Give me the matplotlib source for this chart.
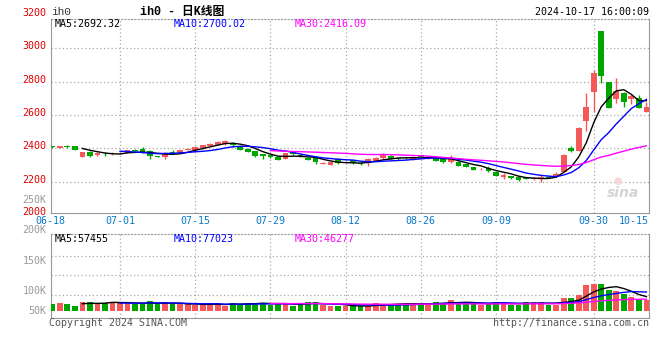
import matplotlib
matplotlib.use('Agg')
import matplotlib.pyplot as plt
import numpy as np
import pandas as pd
from matplotlib.transforms import blended_transform_factory

# ---------------- data ----------------
dates = ("06-18 06-19 06-20 06-21 06-24 06-25 06-26 06-27 06-28 "
         "07-01 07-02 07-03 07-04 07-05 07-08 07-09 07-10 07-11 07-12 "
         "07-15 07-16 07-17 07-18 07-19 07-22 07-23 07-24 07-25 07-26 "
         "07-29 07-30 07-31 08-01 08-02 08-05 08-06 08-07 08-08 08-09 "
         "08-12 08-13 08-14 08-15 08-16 08-19 08-20 08-21 08-22 08-23 "
         "08-26 08-27 08-28 08-29 08-30 09-02 09-03 09-04 09-05 09-06 "
         "09-09 09-10 09-11 09-12 09-13 09-18 09-19 09-20 "
         "09-23 09-24 09-25 09-26 09-27 09-30 "
         "10-08 10-09 10-10 10-11 10-14 10-15 10-16").split()

opens = [2411, 2404, 2415, 2414, 2350, 2380, 2358, 2368, 2363, 2370,
         2372, 2392, 2394, 2386, 2352, 2350, 2378, 2372, 2390, 2392,
         2400, 2416, 2420, 2424, 2426, 2416, 2398, 2384, 2364, 2360,
         2350, 2336, 2376, 2360, 2344, 2340, 2308, 2300, 2334, 2314,
         2330, 2314, 2310, 2326, 2340, 2356, 2342, 2344, 2334, 2360,
         2340, 2346, 2336, 2320, 2320, 2306, 2288, 2274, 2282, 2256,
         2228, 2232, 2228, 2222, 2218, 2222, 2228, 2228, 2260, 2404,
         2386, 2566, 2740, 3104, 2798, 2696, 2734, 2696, 2704, 2620]
highs = [2416, 2416, 2422, 2416, 2380, 2382, 2375, 2376, 2378, 2376,
         2392, 2394, 2405, 2388, 2356, 2380, 2390, 2392, 2400, 2412,
         2422, 2430, 2442, 2448, 2440, 2418, 2400, 2386, 2368, 2362,
         2352, 2372, 2378, 2364, 2346, 2342, 2316, 2318, 2340, 2322,
         2332, 2318, 2344, 2346, 2370, 2358, 2344, 2346, 2352, 2362,
         2352, 2348, 2338, 2360, 2322, 2308, 2290, 2282, 2296, 2258,
         2250, 2234, 2230, 2226, 2226, 2240, 2232, 2258, 2368, 2416,
         2530, 2730, 2870, 3104, 2800, 2820, 2736, 2726, 2722, 2680]
lows = [2404, 2402, 2403, 2388, 2348, 2350, 2355, 2352, 2358, 2366,
        2370, 2382, 2372, 2336, 2345, 2336, 2370, 2370, 2388, 2390,
        2398, 2414, 2418, 2422, 2405, 2390, 2378, 2350, 2336, 2344,
        2330, 2334, 2362, 2346, 2328, 2304, 2305, 2298, 2308, 2310,
        2308, 2302, 2296, 2324, 2338, 2334, 2332, 2336, 2332, 2348,
        2338, 2324, 2314, 2310, 2294, 2288, 2268, 2270, 2260, 2234,
        2218, 2218, 2206, 2214, 2212, 2200, 2220, 2226, 2255, 2380,
        2384, 2506, 2620, 2794, 2642, 2670, 2648, 2666, 2642, 2618]
closes = [2409, 2414, 2405, 2390, 2378, 2354, 2372, 2364, 2368, 2371,
          2390, 2384, 2374, 2354, 2348, 2370, 2374, 2390, 2398, 2410,
          2420, 2426, 2440, 2446, 2420, 2392, 2380, 2356, 2352, 2346,
          2332, 2370, 2364, 2348, 2330, 2316, 2312, 2316, 2310, 2317,
          2310, 2304, 2336, 2344, 2360, 2336, 2334, 2340, 2350, 2350,
          2350, 2326, 2316, 2342, 2296, 2290, 2270, 2277, 2262, 2236,
          2240, 2220, 2208, 2218, 2221, 2225, 2224, 2246, 2360, 2386,
          2524, 2646, 2853, 2836, 2644, 2744, 2680, 2714, 2644, 2646]
volumes_k = [28.7, 34, 28.7, 20.5, 37, 37, 33, 33, 37, 34,
             34, 27.5, 27.5, 41, 27.5, 37, 27.5, 27.5, 27.5, 24.6,
             28.7, 28.7, 28.7, 21.7, 33, 28.7, 33, 33, 33, 24.6,
             28.7, 33, 21.7, 28.7, 37, 37, 24.6, 21.7, 21.7, 21.7,
             19.3, 19.3, 19.3, 34, 30, 28.7, 28.7, 28.7, 34, 28.7,
             24.6, 37, 34, 45, 31.6, 31.6, 31.6, 24.6, 34, 37,
             33, 24.6, 24.6, 37, 37, 37, 24.6, 24.6, 53, 53,
             65.6, 108, 112, 111, 86, 82, 68.5, 57.4, 44, 44]

price_ticks = [2000, 2200, 2400, 2600, 2800, 3000, 3200]
vol_tick_labels = ["250K", "200K", "150K", "100K", "50K"]
date_labels = ["06-18", "07-01", "07-15", "07-29", "08-12", "08-26", "09-09", "09-30", "10-15"]
ma_price_text = ["MA5:2692.32", "MA10:2700.02", "MA30:2416.09"]
ma_vol_text = ["MA5:57455", "MA10:77023", "MA30:46277"]
title_code = "ih0"
title_text = "ih0 - 日K线图"
timestamp = "2024-10-17 16:00:09"

# ---------------- style ----------------
W, H = 660, 360
RED = '#f55858'
GREEN = '#00a600'
GRID = '#aaaaaa'
BORDER = '#999999'
MA_COLORS = ['#000000', '#0000ff', '#ff00ff']
MONO = 'DejaVu Sans Mono'
FS = 7.2
BLUE_TXT = '#0a78c8'

fig = plt.figure(figsize=(6.6, 3.6), dpi=100)
fig.patch.set_facecolor('white')

def rect(l, t, r, b):
    return [l / W, 1 - b / H, (r - l) / W, (b - t) / H]

ax = fig.add_axes(rect(50.7, 19.3, 649, 212.7))
axv = fig.add_axes(rect(50.7, 233.5, 649, 318.3))

n = len(closes)
x = np.arange(n)
o = np.array(opens, float); c = np.array(closes, float)
hi = np.array(highs, float); lo = np.array(lows, float)
vol = np.array(volumes_k, float) * 1000
up = c >= o
cols = np.where(up, RED, GREEN)

step = 7.52
x0px = 52.3
xl = ((50.7 - x0px) / step, (649 - x0px) / step)

ppp = 200 / 33.35
ylim = (2400 - (212.7 - 148.3) * ppp, 2400 + (148.3 - 19.3) * ppp)

# ------------- main chart -------------
ax.vlines(x, lo, hi, colors=cols, lw=1, zorder=3)
bot = np.minimum(o, c)
hgt = np.maximum(np.abs(c - o), 4)
ax.bar(x, hgt, bottom=bot, width=0.76, color=cols, lw=0, zorder=4)

cs = pd.Series(c)
for per, col in zip([5, 10, 30], MA_COLORS):
    ax.plot(x, cs.rolling(per).mean(), color=col, lw=1, zorder=5)

ax.set_xlim(*xl)
ax.set_ylim(*ylim)
grid_idx = [dates.index(d) for d in date_labels[1:-1]]
ax.set_xticks(grid_idx)
ax.set_yticks([t for t in price_ticks if ylim[0] < t < ylim[1]])
ax.grid(True, color=GRID, linestyle=(0, (1, 2)), lw=0.9)
ax.tick_params(length=0, labelleft=False, labelbottom=False)
for s in ['left', 'bottom', 'right']:
    ax.spines[s].set_color(BORDER)
ax.spines['top'].set_color(BORDER)
ax.spines['top'].set_linestyle((0, (1, 2)))

# price labels
tr = blended_transform_factory(ax.transAxes, ax.transData)
for t in price_ticks:
    dy = 2 if t != price_ticks[0] else 3.5
    ax.annotate(str(t), xy=(0, t), xycoords=tr, xytext=(-4, dy), textcoords='offset pixels',
                ha='right', va='center', color='#e00000', fontsize=FS, family=MONO,
                annotation_clip=False)

# date labels
trx = blended_transform_factory(ax.transData, ax.transAxes)
for d in date_labels:
    if d == date_labels[-1]:
        ax.annotate(d, xy=(1.0, 0), xycoords='axes fraction', xytext=(0, -8),
                    textcoords='offset pixels', ha='right', va='center',
                    color=BLUE_TXT, fontsize=FS, family=MONO, annotation_clip=False)
        continue
    xi = dates.index(d) if d != date_labels[0] else xl[0]
    ax.annotate(d, xy=(xi, 0), xycoords=trx, xytext=(0, -8), textcoords='offset pixels',
                ha='center', va='center', color=BLUE_TXT, fontsize=FS, family=MONO,
                annotation_clip=False)

# MA header texts
for txt, col, xp in zip(ma_price_text, MA_COLORS, [55, 174, 295]):
    fig.text(xp / W, 1 - 24 / H, txt, color=col, fontsize=FS, family=MONO, ha='left', va='center')

# watermark
fig.text(623 / W, 1 - 193 / H, 'sina', color='#d4d4d4', fontsize=10, family='DejaVu Sans',
         style='italic', weight='bold', ha='center', va='center')
fig.text(618 / W, 1 - 181 / H, '\u25cf', color='#f6d6d6', fontsize=7, ha='center', va='center')

# ------------- volume chart -------------
vppx = 4100.0
vbase = 311.0
vlim = (-(318.3 - vbase) * vppx, (vbase - 233.5) * vppx)
axv.bar(x, vol, width=0.76, color=cols, lw=0, zorder=3)
vs = pd.Series(vol)
for per, col in zip([5, 10, 30], MA_COLORS):
    axv.plot(x, vs.rolling(per).mean(), color=col, lw=1, zorder=5)
axv.set_xlim(*xl)
axv.set_ylim(*vlim)
axv.set_xticks(grid_idx)
axv.set_yticks([(vbase - p) * vppx for p in [255.7, 275.3, 295.3]])
axv.grid(True, color=GRID, linestyle=(0, (1, 2)), lw=0.9)
axv.tick_params(length=0, labelleft=False, labelbottom=False)
for s in ['left', 'bottom', 'right']:
    axv.spines[s].set_color(BORDER)
axv.spines['top'].set_color(BORDER)
axv.spines['top'].set_linestyle((0, (1, 2)))

for lab, yp in zip(vol_tick_labels, [200, 230, 261, 291, 311]):
    fig.text(46.5 / W, 1 - yp / H, lab, color='#999999', fontsize=FS, family=MONO,
             ha='right', va='center')

for txt, col, xp in zip(ma_vol_text, MA_COLORS, [55, 174, 295]):
    fig.text(xp / W, 1 - 238.5 / H, txt, color=col, fontsize=FS, family=MONO, ha='left', va='center')

# ------------- header / footer -------------
fig.text(51 / W, 1 - 12 / H, title_code, color='#333333', fontsize=8, family='Liberation Mono',
         ha='left', va='center')
fig.text(140 / W, 1 - 12 / H, title_text, color='#000000', fontsize=8.5,
         family=['Liberation Mono', 'Noto Sans CJK SC'], weight='bold', ha='left', va='center')
fig.text(649 / W, 1 - 12 / H, timestamp, color='#000000', fontsize=FS, family=MONO,
         ha='right', va='center')
fig.text(49 / W, 1 - 323.5 / H, 'Copyright 2024 SINA.COM', color='#555555', fontsize=FS,
         family=MONO, ha='left', va='center')
fig.text(649 / W, 1 - 323.5 / H, 'http://finance.sina.com.cn', color='#555555', fontsize=FS,
         family=MONO, ha='right', va='center')

fig.savefig('out.png', dpi=100, facecolor='white')
